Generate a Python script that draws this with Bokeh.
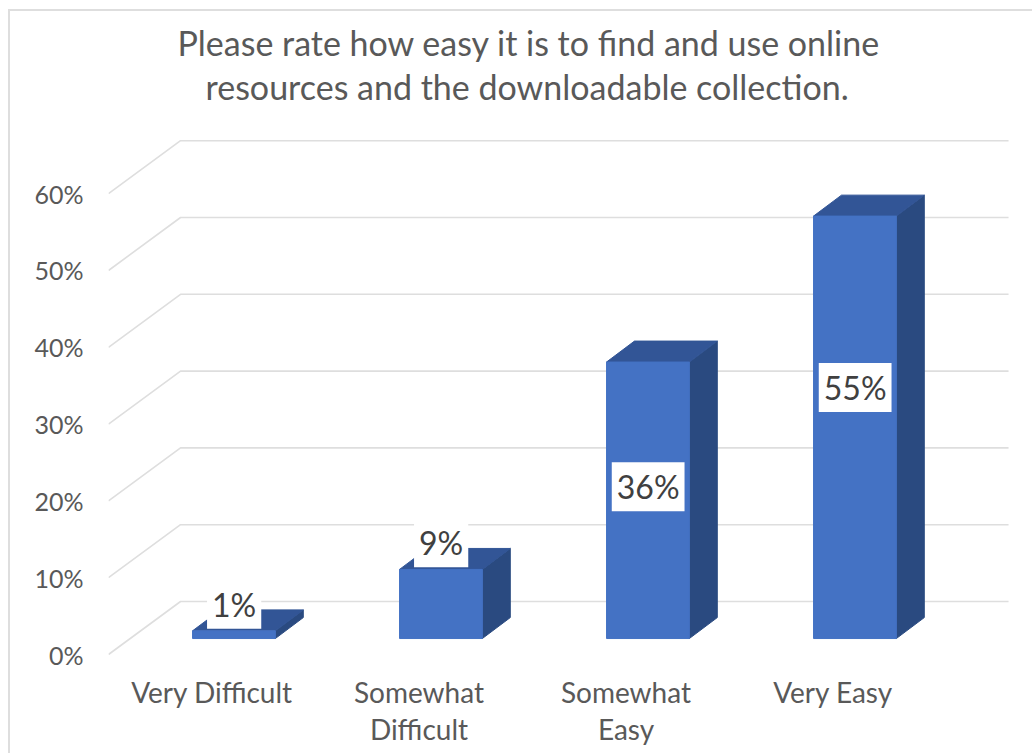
from bokeh.plotting import figure
from bokeh.models import Title, Label, FixedTicker, Range1d
from bokeh.embed import file_html
from bokeh.resources import INLINE

title_lines = ["Please rate how easy it is to find and use online", "resources and the downloadable collection."]
categories = ["Very Difficult", "Somewhat\nDifficult", "Somewhat\nEasy", "Very Easy"]
values = [1, 9, 36, 55]
value_labels = ["1%", "9%", "36%", "55%"]
label_heights = [6.55, 14.55, 21.85, 34.75]
y_ticks = [0, 10, 20, 30, 40, 50, 60]

FONT = "Lato"
GREY = "#595959"
GRID = "#dedede"
WALL_DX, WALL_DY = 0.348, 6.9
BAR_DX, BAR_DY = 0.106, -2.08
DEPTH_X, DEPTH_Y = 0.135, 2.73
HALF = 0.2

p = figure(width=1032, height=753, output_backend="svg", toolbar_location=None,
           x_range=Range1d(0, 924 / 207), y_range=Range1d(-0.78, 71.22),
           min_border_left=108, min_border_right=0, min_border_top=107, min_border_bottom=93,
           border_fill_color=None, background_fill_color=None, outline_line_color=None,
           styles={"position": "absolute", "left": "0", "top": "0",
                   "background": "linear-gradient(#dedede,#dedede) 8px 9px/2px 100% no-repeat,"
                                 "linear-gradient(#dedede,#dedede) 8px 9px/100% 2px no-repeat"})
p.grid.visible = False

# title: one centred line each, placed above the plot
for line, off in zip(reversed(title_lines), (97, 69)):
    p.add_layout(Title(text=line, align="left", offset=off, text_font=FONT, text_font_size="34px",
                       text_font_style="normal", text_color=GREY, standoff=1), "above")

# axes
yax = p.yaxis[0]
yax.ticker = FixedTicker(ticks=y_ticks)
yax.major_label_overrides = {v: f"{v}%" for v in y_ticks}
yax.axis_line_color = None
yax.major_tick_line_color = None
yax.minor_tick_line_color = None
yax.major_tick_out = 0
yax.major_label_standoff = 25
yax.major_label_text_font = FONT
yax.major_label_text_font_size = "25px"
yax.major_label_text_color = GREY

xax = p.xaxis[0]
xax.ticker = FixedTicker(ticks=[i + 0.5 for i in range(len(categories))])
xax.major_label_overrides = {i + 0.5: c for i, c in enumerate(categories)}
xax.axis_line_color = None
xax.major_tick_line_color = None
xax.minor_tick_line_color = None
xax.major_tick_out = 0
xax.major_label_standoff = 14
xax.major_label_text_font = FONT
xax.major_label_text_font_size = "28px"
xax.major_label_text_color = GREY
xax.major_label_text_line_height = 1.1

# chart walls
n = len(categories)
for v in y_ticks:
    p.line([0, WALL_DX, n + WALL_DX], [v, v + WALL_DY, v + WALL_DY], line_color=GRID, line_width=1.6)

# bars
lefts = [i + 0.5 + BAR_DX - HALF for i in range(n)]
rights = [i + 0.5 + BAR_DX + HALF for i in range(n)]
base_y = -BAR_DY
tops = [v + base_y for v in values]
p.patches([[r, r + DEPTH_X, r + DEPTH_X, r] for r in rights],
          [[base_y, base_y + DEPTH_Y, t + DEPTH_Y, t] for t in tops],
          fill_color="#2a4a80", line_color="#2a4a80", line_width=1)
p.patches([[l, r, r + DEPTH_X, l + DEPTH_X] for l, r in zip(lefts, rights)],
          [[t, t, t + DEPTH_Y, t + DEPTH_Y] for t in tops],
          fill_color="#325596", line_color="#325596", line_width=1)
p.quad(left=lefts, right=rights, bottom=base_y, top=tops, fill_color="#4472c4", line_color="#4472c4", line_width=1)

# data labels
for i, (h, t) in enumerate(zip(label_heights, value_labels)):
    p.add_layout(Label(x=i + 0.607, y=h, text=t, text_align="center", text_baseline="middle",
                       text_font=FONT, text_font_size="32px", text_color="#404040",
                       background_fill_color="white", padding=5))

open("out.html", "w").write(file_html(p, INLINE))
